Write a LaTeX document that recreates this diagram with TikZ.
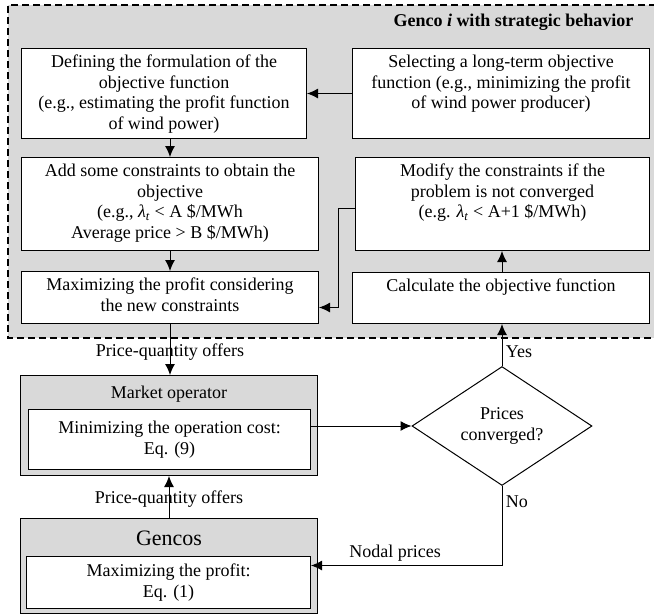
\documentclass[tikz,border=0pt]{standalone}
\usepackage{fontspec}
\setmainfont{Liberation Serif}
\usetikzlibrary{shapes.geometric,arrows.meta,positioning,calc}
\tikzstyle{wbox} = [draw, line width=1pt, fill=white, inner sep=0pt, anchor=north west]
\tikzstyle{gbox} = [draw, line width=1pt, fill=gray!30, inner sep=0pt, anchor=north west]
\tikzstyle{decision} = [diamond, draw, line width=1pt, fill=white, minimum width=180pt, minimum height=102pt, inner sep=0pt, align=center]
\tikzstyle{line} = [draw, line width=1pt, ->]
\tikzset{>={Latex[length=11pt,width=10pt]}}
\newcommand{\boxtxt}[3]{\parbox[c][#2][t]{#1}{\centering\rule{0pt}{19pt}#3}}
\newcommand{\lamt}{\textit{λ}\textsubscript{\textit{t}}}

\begin{document}
\begin{tikzpicture}[x=1pt,y=-1pt,every node/.style={font=\fontsize{18}{20.5}\selectfont}]
    \useasboundingbox (0,0) rectangle (654,614);
    % strategic genco area
    \fill [gray!30] (8,5) rectangle (654,338);
    \draw [line width=1.2pt,dash pattern=on 7pt off 4pt] (656,5) -- (8,5) -- (8,338) -- (656,338);
    \node [anchor=east,font=\fontsize{18}{20.5}\selectfont\bfseries] (title) at (637,22) {Genco \textit{i} with strategic behavior};
    \node [wbox] (defobj) at (21,48) {\boxtxt{285pt}{90pt}{Defining the formulation of the\\objective function\\(e.g., estimating the profit function\\of wind power)}};
    \node [wbox] (selobj) at (352,48) {\boxtxt{297pt}{90pt}{Selecting a long-term objective\\function (e.g., minimizing the profit\\of wind power producer)}};
    \node [wbox] (addcon) at (21,157) {\boxtxt{297pt}{93pt}{Add some constraints to obtain the\\objective\\(e.g., \lamt{} < A \$/MWh\\Average price > B \$/MWh)}};
    \node [wbox] (modcon) at (355,157) {\boxtxt{294pt}{93pt}{Modify the constraints if the\\problem is not converged\\(e.g. \lamt{} < A+1 \$/MWh)}};
    \node [wbox] (maxprof) at (21,271) {\boxtxt{297pt}{52pt}{Maximizing the profit considering\\the new constraints}};
    \node [wbox] (calcobj) at (352,272) {\boxtxt{297pt}{51pt}{Calculate the objective function}};
    % market and gencos
    \node [gbox] (market) at (20,375) {\parbox[c][100pt][t]{297pt}{\centering\rule{0pt}{22.5pt}Market operator}};
    \node [wbox,minimum width=282pt,minimum height=60pt,align=center] (mininner) at (28,409) {Minimizing the operation cost:\\Eq. (9)};
    \node [gbox] (gencos) at (20,518) {\parbox[c][95pt][t]{297pt}{\centering\fontsize{22}{24}\selectfont\rule{0pt}{27pt}Gencos}};
    \node [wbox,minimum width=284pt,minimum height=52pt,align=center] (maxinner) at (26,556) {Maximizing the profit:\\Eq. (1)};
    \node [decision] (conv) at (502,426) {Prices\\converged?};
    % connectors
    \draw [line] (selobj.west) -- (selobj.west -| defobj.east);
    \draw [line] (addcon.north |- defobj.south) -- (addcon.north);
    \draw [line] (addcon.south) -- (maxprof.north);
    \draw [line] (modcon.west) ++(0,4) -- ++(-17,0) |- ($(maxprof.east)+(0,10)$);
    \draw [line] (calcobj.north -| conv.north) -- (modcon.south -| conv.north);
    \draw [line] (maxprof.south) -- node [pos=0.55] (offerup) {Price-quantity offers} (maxprof.south |- market.north);
    \draw [line] (gencos.north) -- node [pos=0.45] (offerdown) {Price-quantity offers} (market.south);
    \draw [line] (conv.west -| mininner.east) -- (conv.west);
    \draw [line] (conv.north) -- node [pos=0.35,right=0pt] (yeslbl) {Yes} (conv.north |- calcobj.south);
    \draw [line] (conv.south) |- node [pos=0.1,right=0pt] (nolbl) {No} node [pos=0.78,above] (nodallbl) {Nodal prices} ($(maxinner.east)+(0,-17)$);
\end{tikzpicture}
\end{document}
